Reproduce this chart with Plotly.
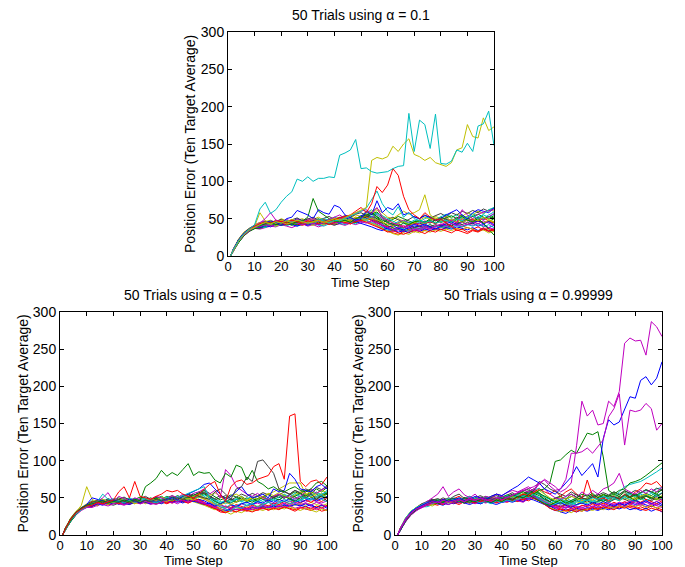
import plotly.graph_objects as go

# ---------------- data ----------------
time_steps = [1] + list(range(2, 101, 2))

# colours (MATLAB default order)
C_B, C_G, C_R, C_C, C_M, C_Y, C_K = "#0000FF", "#008000", "#FF0000", "#00BFBF", "#BF00BF", "#BFBF00", "#404040"
bulk_colors = [C_B, C_G, C_R, C_C, C_M, C_Y, C_K]

# ---- alpha = 0.1 (top) ----
top_trial_01 = [0,8,20,29,34,38, 40,42,41,44,43, 45,43,46,44,42, 44,46,43,45,47, 44,46,48,45,47, 50,48,45,40,36, 34,37,35,38,40, 39,41,38,40,42, 40,43,41,39,42, 44,40,42,38,41]
top_trial_02 = [0,7,19,28,35,39, 38,40,43,41,45, 42,44,41,43,46, 45,42,44,47,43, 46,44,47,50,52, 55,58,52,46,40, 38,35,33,36,38, 37,40,42,39,41, 43,40,44,46,42, 45,48,44,46,50]
top_trial_03 = [0,9,22,30,36,40, 42,44,46,43,42, 44,47,45,43,44, 42,45,48,46,44, 47,45,43,46,49, 52,47,43,38,33, 31,29,33,35,32, 36,34,37,35,38, 37,39,36,40,38, 36,39,35,37,34]
top_trial_04 = [0,8,21,31,35,37, 41,39,44,46,43, 41,43,46,48,45, 47,44,42,45,48, 50,47,52,49,53, 58,62,55,50,45, 42,46,44,40,43, 45,42,47,44,48, 46,50,47,52,49, 53,50,55,52,56]
top_trial_05 = [0,6,18,27,33,37, 36,38,40,39,42, 40,38,41,43,40, 42,39,41,44,42, 43,41,44,42,45, 47,44,40,36,34, 33,35,32,34,37, 36,38,40,37,39, 41,38,42,40,43, 41,44,40,38,36]
top_trial_06 = [0,9,23,32,37,41, 44,46,48,45,50, 47,45,48,50,46, 49,52,48,47,50, 52,49,51,55,53, 60,56,62,54,48, 45,50,47,43,46, 48,52,49,53,50, 54,51,56,53,58, 55,60,57,62,60]
top_trial_07 = [0,8,20,30,35,38, 39,43,41,45,42, 46,44,42,45,47, 44,43,46,44,41, 44,47,45,48,46, 49,53,50,44,38, 36,39,37,41,38, 40,37,39,42,40, 38,41,44,42,45, 43,47,44,46,45]
top_trial_08 = [0,7,20,29,36,40, 43,41,45,47,44, 48,46,50,47,45, 48,46,44,47,45, 49,52,48,50,54, 56,52,48,42,37, 35,32,34,31,35, 33,36,34,37,35, 38,36,39,37,35, 38,34,37,33,36]
top_trial_09 = [0,8,22,30,34,37, 37,40,42,44,41, 43,45,42,44,43, 46,44,47,45,43, 46,48,46,49,51, 54,57,50,45,41, 44,41,38,42,45, 43,46,44,48,45, 47,44,49,46,50, 48,52,49,53,51]
top_trial_10 = [0,9,21,31,36,39, 42,45,43,46,48, 45,47,44,48,46, 43,46,49,47,45, 48,45,47,52,50, 53,49,46,41,39, 40,43,39,42,44, 41,44,46,43,47, 45,48,45,50,47, 49,46,51,47,44]
top_trial_11 = [0,7,18,28,34,38, 40,38,42,40,44, 41,43,40,42,45, 43,41,40,43,46, 44,42,45,43,47, 48,45,42,38,35, 34,38,36,33,37, 35,39,37,40,38, 40,37,41,39,42, 40,43,39,42,38]
top_trial_12 = [0,8,21,30,36,42, 45,47,44,48,46, 49,46,44,47,50, 47,49,46,48,51, 49,53,50,48,52, 55,51,57,50,44, 41,44,48,45,42, 44,47,45,49,46, 50,47,52,48,51, 47,51,48,53,57]
top_trial_18 = [0,7,19,29,35,38, 41,44,42,40,43, 45,42,44,46,43, 41,44,42,45,43, 46,44,47,45,48, 46,44,41,37,33, 30,28,31,29,33, 31,34,32,35,33, 36,34,37,35,38, 36,33,35,31,33]
top_trial_19 = [0,9,22,31,37,41, 43,46,44,47,49, 46,48,51,47,49, 52,48,50,53,49, 51,54,52,56,58, 54,50,47,44,49, 52,48,45,49,53, 50,55,51,54,57, 53,58,55,60,57, 61,58,63,60,65]
top_trial_20 = [0,8,20,30,36,40, 38,41,39,43,41, 44,42,40,43,41, 44,42,45,43,46, 44,47,49,46,44, 42,39,36,34,38, 41,37,35,39,42, 40,43,39,36,40, 43,46,42,45,48, 44,47,43,46,42]
top_trial_21 = [0,7,18,27,33,37, 40,43,45,42,46, 44,41,45,48,44, 47,50,46,49,45, 48,51,47,45,49, 52,55,59,52,46, 49,53,50,47,44, 48,45,50,47,52, 49,46,51,55,50, 53,56,52,50,54]
top_trial_22 = [0,8,21,30,35,39, 44,41,43,46,44, 42,45,43,41,44, 46,43,45,42,44, 47,45,43,46,48, 45,42,40,36,32, 34,31,29,32,35, 33,30,34,32,36, 34,31,35,33,30, 34,32,36,33,35]
top_trial_23 = [0,9,21,30,35,40, 42,40,44,47,45, 48,46,43,47,45, 43,47,50,48,52, 49,46,50,48,51, 49,53,57,54,50, 46,43,47,44,48, 46,50,53,49,52, 56,52,55,50,54, 57,53,50,55,59]
top_trial_24 = [0,8,20,28,34,38, 39,42,40,43,45, 43,46,44,42,45, 44,42,45,47,44, 46,43,45,48,46, 44,47,44,40,37, 35,38,41,37,34, 37,40,36,39,43, 40,44,41,45,42, 46,43,47,44,41]
top_trial_25 = [0,7,20,30,36,41, 45,43,46,44,48, 46,49,47,45,48, 50,47,44,47,50, 48,46,49,52,50, 48,51,48,45,42, 40,44,46,42,45, 47,44,48,51,47, 45,49,46,50,53, 50,47,52,49,46]
top_trial_13 = [0,8,20,30,35,40, 58,47,45,44,46, 43,45,47,44,46, 45,48,46,44,47, 46,49,47,50,52, 55,60,64,58,52, 50,55,60,56,58, 62,82,55,50,48, 52,47,50,45,48, 46,50,44,48,45]
top_trial_14 = [0,8,21,30,35,39, 41,43,45,42,44, 46,44,45,47,52, 77,60,55,50,47, 46,48,45,50,52, 55,58,53,48,45, 43,40,44,42,46, 47,45,48,44,49, 51,54,50,53,48, 46,50,44,36,28]
top_trial_15 = [0,9,22,31,36,40, 42,44,47,45,43, 50,52,61,58,55, 50,62,58,56,68, 65,55,52,48,50, 60,55,74,58,65, 62,70,55,58,52, 50,54,52,48,50, 55,58,62,55,50, 58,62,60,58,64]
top_trial_16 = [0,8,20,29,35,39, 44,50,58,48,46, 47,45,49,46,48, 50,47,45,49,52, 55,50,54,58,60, 62,57,65,52,48, 44,42,38,41,36, 34,38,36,40,42, 45,48,44,62,55, 50,56,59,61,62]
top_trial_17 = [0,8,20,30,35,38, 42,45,43,46,44, 47,45,48,46,44, 46,49,47,45,48, 47,50,53,56,60, 64,75,87,70,60, 55,66,52,58,50, 48,45,47,44,46, 48,45,50,47,52, 54,50,56,62,65]
top_trial_red = [0,8,21,30,36,40, 43,45,44,47,46, 45,48,46,44,47, 46,48,45,47,49, 50,52,55,60,65, 58,70,93,85,95, 117,108,80,62,55, 50,58,52,48,50, 44,40,34,36,32, 35,33,38,34,36]
top_trial_yellow = [0,8,20,29,35,39, 42,45,43,46,44, 47,45,48,46,44, 46,48,45,47,50, 48,52,55,58,62, 65,128,132,130,133, 147,140,150,157,136, 133,128,132,125,122, 120,125,142,145,176, 160,158,185,168,173]
top_trial_cyan = [0,8,21,30,36,42, 63,72,57,62,72, 80,86,103,100,106, 100,104,104,106,105, 135,138,142,156,117, 118,113,111,112,113, 117,120,121,191,140, 182,176,144,190,124, 123,127,142,139,151, 140,174,177,194,148]

# ---- alpha = 0.5 (bottom left) ----
bl_trial_01 = [0,8,20,29,35,39, 40,44,42,46,43, 45,42,44,47,45, 43,46,44,42,45, 47,44,46,49,47, 45,42,38,35,33, 32,35,34,37,35, 38,36,39,37,40, 38,41,39,42,40, 38,41,37,40,36]
bl_trial_02 = [0,7,19,28,35,40, 43,41,45,48,46, 44,47,49,46,44, 47,50,46,48,52, 49,53,50,55,52, 58,55,50,46,42, 45,48,44,47,50, 46,49,52,48,51, 55,50,54,58,55, 60,56,62,58,64]
bl_trial_03 = [0,9,22,30,36,39, 38,42,44,41,43, 46,43,41,44,42, 45,43,47,44,42, 45,48,45,43,46, 48,44,40,36,31, 30,33,31,34,32, 35,33,36,34,37, 35,38,36,34,37, 35,33,36,32,34]
bl_trial_04 = [0,8,21,31,36,41, 45,43,47,44,48, 46,50,47,45,48, 44,47,50,48,46, 49,47,51,48,53, 55,60,52,48,45, 42,46,49,45,43, 47,44,48,46,50, 47,52,49,54,51, 55,52,58,54,60]
bl_trial_05 = [0,6,18,27,33,37, 41,39,43,45,42, 44,46,43,47,44, 46,43,45,48,44, 47,45,49,46,50, 52,48,45,41,38, 36,40,38,42,39, 41,43,40,44,42, 45,42,46,43,47, 44,48,45,43,46]
bl_trial_06 = [0,9,23,32,37,42, 44,47,45,43,46, 48,45,47,44,46, 42,45,43,46,44, 48,46,44,47,45, 43,40,37,34,36, 38,35,37,34,38, 36,39,37,40,38, 41,39,43,40,42, 40,44,41,39,42]
bl_trial_07 = [0,8,20,30,35,38, 39,41,44,42,40, 43,45,42,46,44, 48,45,43,46,49, 46,50,47,51,49, 55,58,52,47,50, 53,49,45,50,46, 49,52,48,45,50, 53,49,55,51,48, 52,56,50,54,57]
bl_trial_08 = [0,7,20,29,36,40, 42,45,43,47,45, 41,44,46,43,45, 47,44,42,45,47, 44,46,43,47,45, 48,46,42,38,35, 33,36,39,36,33, 37,35,38,36,39, 37,40,38,41,39, 42,39,37,40,38]
bl_trial_09 = [0,8,22,30,35,40, 46,44,48,45,47, 50,47,45,48,51, 48,46,49,52,48, 51,49,53,50,48, 52,56,50,45,42, 46,43,48,52,47, 44,48,51,47,53, 50,54,48,52,56, 53,58,55,51,55]
bl_trial_10 = [0,9,21,31,36,38, 40,43,41,44,46, 43,41,45,43,47, 45,48,44,47,45, 43,46,48,45,49, 47,43,40,38,36, 39,37,41,38,36, 40,38,42,39,43, 41,45,42,46,43, 47,44,48,45,50]
bl_trial_11 = [0,7,18,28,34,39, 43,46,48,44,47, 45,48,50,47,45, 49,46,48,51,47, 50,52,49,54,51, 56,52,47,43,40, 37,41,39,43,40, 42,45,41,44,47, 44,48,45,49,46, 50,47,52,48,45]
bl_trial_12 = [0,8,21,30,35,37, 37,40,43,41,44, 42,40,43,45,42, 44,41,43,46,43, 45,42,46,44,47, 46,44,41,37,34, 35,32,35,33,36, 34,37,35,38,36, 39,37,40,36,38, 35,38,34,37,33]
bl_trial_13 = [0,7,19,29,35,38, 42,40,43,41,45, 43,46,44,42,45, 47,44,46,43,45, 48,46,49,47,51, 53,49,45,40,35, 31,28,32,30,34, 32,35,33,36,34, 37,35,38,36,33, 36,34,31,35,33]
bl_trial_14 = [0,9,22,31,37,41, 44,47,45,49,46, 48,51,47,45,49, 52,48,51,47,50, 53,49,52,55,51, 54,57,52,49,53, 50,47,51,55,52, 56,53,57,54,50, 54,58,55,60,57, 62,59,64,61,66]
bl_trial_15 = [0,8,20,30,36,40, 39,42,40,44,42, 45,43,41,44,47, 44,42,45,43,46, 44,47,45,48,46, 44,41,43,39,42, 45,41,38,42,44, 41,45,43,47,44, 48,45,49,46,44, 47,50,46,49,52]
bl_trial_16 = [0,7,18,27,34,39, 41,44,46,43,47, 45,43,46,49,46, 44,47,50,46,48, 51,48,46,50,53, 57,60,56,51,47, 50,54,51,48,45, 49,46,51,55,50, 47,52,49,45,50, 54,51,48,53,56]
bl_trial_17 = [0,8,21,30,35,40, 45,42,44,47,44, 42,45,43,46,44, 47,44,42,46,43, 45,48,46,43,47, 44,42,39,35,32, 30,34,31,35,33, 31,34,37,33,36, 34,38,35,32,36, 38,35,39,36,40]
bl_trial_18 = [0,9,21,31,36,41, 43,45,43,47,49, 46,48,45,49,47, 50,47,45,48,51, 49,46,50,48,52, 50,54,50,46,43, 47,44,48,45,49, 52,48,45,50,47, 51,55,51,56,52, 49,53,57,53,50]
bl_trial_19 = [0,8,20,28,34,37, 40,43,41,39,42, 44,41,43,45,42, 45,43,41,44,46, 43,45,47,44,48, 45,43,40,37,41, 38,35,39,37,34, 38,36,40,38,42, 39,43,40,44,41, 43,40,44,41,38]
bl_trial_20 = [0,7,20,30,36,40, 44,46,48,45,43, 47,49,46,44,48, 45,49,47,51,48, 46,50,53,49,47, 51,48,53,57,52, 48,52,55,51,47, 51,48,52,56,53, 57,53,50,54,58, 55,51,56,60,57]
bl_trial_yellow = [0,9,22,31,40,65, 48,44,46,43,45, 47,44,46,42,45, 48,46,44,47,45, 49,47,50,48,52, 55,50,46,42,40, 44,41,45,48,46, 50,53,49,55,58, 62,65,70,70,70, 55,58,52,56,50]
bl_trial_magenta = [0,8,21,30,36,40, 42,45,50,57,45, 52,49,46,50,47, 45,48,52,50,47, 53,50,55,52,56, 58,62,55,60,50, 88,80,65,60,55, 52,56,50,48,52, 55,50,53,48,52, 58,62,56,60,65]
bl_trial_blue = [0,8,20,30,36,41, 50,48,45,44,47, 46,44,48,45,43, 47,45,44,46,48, 50,47,52,55,58, 62,68,70,62,55, 48,52,58,65,55, 50,52,55,50,62, 58,60,83,75,62, 60,58,65,68,62]
bl_trial_cyan = [0,7,19,28,34,38, 42,45,55,48,44, 46,43,47,44,46, 48,45,43,46,49, 47,50,52,55,58, 62,65,50,42,38, 35,32,38,36,40, 42,38,41,44,40, 43,46,42,45,48, 50,47,52,55,58]
bl_trial_black = [0,9,22,31,36,40, 44,46,43,47,45, 48,45,43,46,44, 47,45,48,46,49, 47,50,48,52,55, 52,50,48,58,62, 55,48,62,65,78, 72,99,101,92,83, 62,58,55,60,56, 50,55,48,52,46]
bl_trial_green = [0,8,20,30,36,40, 42,44,46,43,45, 44,47,45,48,46, 65,70,76,87,79, 84,80,88,96,80, 85,83,84,74,70, 83,78,94,91,74, 87,72,68,62,65, 60,58,62,65,60, 58,62,70,72,66]
bl_trial_red = [0,8,21,30,35,39, 40,44,42,45,47, 58,65,50,72,52, 50,48,52,55,60, 58,60,55,52,50, 55,62,68,72,55, 45,65,72,74,68, 70,75,78,80,92, 96,75,160,163,72, 65,72,74,68,78]

# ---- alpha = 0.99999 (bottom right) ----
br_trial_01 = [0,8,20,29,35,39, 42,45,43,47,44, 46,48,45,43,46, 44,47,45,48,46, 49,46,50,53,56, 52,48,42,36,33, 32,35,33,36,34, 37,35,38,36,40, 38,42,40,44,41, 43,40,38,42,39]
br_trial_02 = [0,7,19,28,35,40, 40,43,46,44,48, 45,47,50,46,44, 47,45,49,46,48, 51,48,52,55,58, 62,57,50,45,40, 38,42,45,41,44, 47,43,46,49,45, 48,52,48,51,55, 52,56,53,58,60]
br_trial_03 = [0,9,22,30,36,40, 44,42,45,48,46, 49,52,47,45,48, 46,50,47,45,49, 47,50,48,52,50, 54,50,45,40,37, 35,33,36,34,32, 35,37,34,38,36, 39,36,40,37,35, 38,35,39,36,34]
br_trial_04 = [0,8,21,31,36,38, 38,41,44,46,43, 45,43,47,50,47, 48,51,47,44,46, 49,52,56,53,57, 60,63,55,48,44, 47,50,46,49,45, 48,52,49,46,50, 53,50,54,57,52, 56,60,57,62,64]
br_trial_05 = [0,6,18,27,33,38, 43,46,44,42,45, 44,47,45,48,46, 43,45,48,46,44, 47,45,49,47,50, 53,48,44,39,36, 38,36,40,37,39, 41,38,42,40,38, 42,40,44,41,45, 42,46,43,40,44]
br_trial_06 = [0,9,23,32,37,42, 41,39,43,46,44, 47,45,43,46,49, 46,44,47,45,48, 50,47,45,49,52, 55,50,46,42,45, 48,44,41,45,42, 44,47,45,42,46, 49,46,50,47,51, 48,52,49,47,50]
br_trial_07 = [0,8,20,30,35,39, 45,48,46,50,47, 52,55,49,47,50, 53,49,52,55,50, 53,57,52,55,60, 58,55,48,44,41, 43,40,44,47,43, 46,42,45,48,44, 47,51,48,45,49, 52,48,46,50,47]
br_trial_08 = [0,7,20,29,36,40, 40,42,45,43,41, 44,46,43,41,44, 42,45,43,46,44, 45,48,46,50,48, 52,47,43,38,34, 31,29,33,31,34, 32,35,33,36,34, 37,35,38,34,36, 33,36,32,35,31]
br_trial_09 = [0,8,22,30,35,40, 43,45,48,44,46, 48,45,50,47,45, 49,46,44,47,51, 48,52,50,54,51, 56,53,48,45,50, 52,48,55,51,47, 50,54,51,55,52, 58,54,60,56,53, 57,61,58,55,62]
br_trial_10 = [0,9,21,31,36,38, 39,42,40,44,46, 43,41,45,43,47, 45,48,45,43,46, 44,47,45,48,46, 50,46,42,38,40, 37,41,38,36,40, 38,42,39,43,40, 44,41,45,42,46, 44,48,45,42,46]
br_trial_11 = [0,7,18,28,34,39, 44,47,45,43,47, 50,47,45,49,46, 48,51,47,50,53, 50,54,51,56,53, 58,55,51,47,44, 41,45,43,40,44, 42,46,44,48,45, 49,46,51,48,45, 49,46,50,53,49]
br_trial_12 = [0,8,21,30,35,37, 41,44,42,45,48, 46,43,47,44,42, 45,47,44,48,46, 46,49,47,45,50, 52,49,45,40,37, 34,38,36,33,37, 35,39,37,40,38, 36,40,38,42,39, 41,38,42,39,37]
br_trial_13 = [0,8,20,29,35,40, 44,42,46,44,48, 46,49,47,44,48, 46,49,52,48,46, 50,48,52,56,53, 50,46,42,37,34, 31,33,30,34,32, 35,33,36,34,38, 36,39,37,40,38, 41,37,40,36,39]
br_trial_14 = [0,9,22,31,37,42, 45,47,49,46,50, 48,45,49,52,48, 51,48,50,53,49, 52,55,51,54,57, 53,50,47,45,49, 52,48,51,55,51, 54,50,53,57,54, 58,55,59,56,60, 57,61,58,63,60]
br_trial_15 = [0,7,19,28,34,38, 41,44,42,40,44, 42,45,43,46,44, 42,45,43,41,44, 46,44,47,45,49, 47,44,40,38,41, 44,40,37,41,43, 40,44,41,45,42, 39,43,40,44,47, 43,46,42,45,41]
br_trial_16 = [0,8,21,30,36,39, 43,46,44,47,45, 49,47,50,48,46, 49,52,49,47,51, 54,51,55,58,55, 59,56,52,48,45, 43,47,44,48,50, 47,51,48,45,49, 52,48,53,50,47, 51,54,50,48,52]
br_trial_17 = [0,9,21,30,35,39, 42,45,43,41,45, 43,46,48,45,43, 47,44,46,49,45, 48,46,50,47,52, 49,46,41,36,33, 35,32,34,31,35, 33,37,35,38,36, 34,38,36,39,37, 35,33,36,34,32]
br_trial_18 = [0,8,20,29,36,41, 45,43,47,45,49, 47,50,48,52,49, 47,51,49,46,50, 53,50,54,52,56, 54,51,47,43,46, 49,45,42,46,44, 48,45,49,52,48, 51,47,52,55,51, 55,52,56,53,57]
br_trial_19 = [0,7,18,27,33,37, 40,42,45,43,41, 44,46,43,45,48, 45,43,46,44,47, 45,48,46,44,49, 51,48,45,41,38, 40,37,41,39,36, 40,38,42,40,44, 41,44,42,46,43, 40,44,41,45,48]
br_trial_20 = [0,9,23,32,37,40, 43,41,44,46,43, 45,48,46,44,47, 50,47,45,48,46, 49,52,48,51,54, 57,60,55,50,47, 51,48,52,49,46, 50,47,51,54,50, 53,49,54,51,48, 52,55,51,49,53]
br_trial_red = [0,8,20,30,36,40, 43,46,44,48,45, 47,44,46,49,47, 45,48,46,44,47, 50,48,52,55,53, 57,62,58,55,60, 52,58,62,55,48, 74,52,48,50,46, 52,48,55,50,58, 62,70,68,72,64]
br_trial_black = [0,8,21,30,35,39, 45,48,46,44,47, 49,46,50,48,45, 47,50,48,46,49, 51,48,52,50,55, 60,72,68,62,58, 55,52,58,54,50, 48,52,55,50,53, 51,49,54,52,55, 50,53,48,52,56]
br_trial_magenta_bump = [0,8,21,30,36,40, 45,50,55,65,52, 58,62,54,50,55, 48,52,50,55,53, 57,60,58,62,65, 58,70,62,55,50, 48,52,55,50,58, 53,60,55,62,65, 70,83,62,58,55, 60,56,62,58,64]
br_trial_cyan = [0,9,23,32,37,41, 44,42,46,43,45, 48,45,47,44,46, 43,45,42,46,44, 47,45,49,52,50, 55,48,44,40,42, 45,42,40,44,48, 46,50,48,52,50, 50,58,65,68,70, 72,76,80,85,90]
br_trial_green2 = [0,7,19,28,34,38, 41,44,42,45,47, 44,46,43,47,45, 48,46,44,47,45, 49,47,52,50,54, 50,46,42,40,44, 47,43,46,50,55, 52,56,50,54,52, 55,60,62,70,72, 75,80,86,92,97]
br_trial_green1 = [0,8,20,29,35,39, 42,44,46,43,47, 45,48,46,44,47, 49,46,50,48,52, 50,53,55,58,62, 55,60,62,70,99, 101,108,114,110,123, 137,135,139,105,60, 55,52,58,50,54, 48,52,50,55,50]
br_trial_blue = [0,8,21,31,36,40, 43,46,44,48,45, 47,50,46,48,52, 50,48,52,55,53, 58,62,66,72,78, 74,70,62,58,55, 62,70,78,92,80, 88,96,78,130,155, 148,152,170,186,184, 208,213,202,211,233]
br_trial_magenta2 = [0,9,22,30,35,38, 40,43,45,42,46, 44,47,45,48,46, 50,47,45,49,52, 50,54,57,60,62, 65,70,74,66,60, 62,75,110,110,112, 117,110,119,128,159, 170,190,121,168,166, 168,177,170,141,150]
br_trial_magenta1 = [0,8,20,29,35,39, 42,45,43,47,44, 46,48,45,50,47, 49,46,48,51,47, 50,53,56,60,58, 62,68,75,70,65, 58,62,70,120,180, 160,168,148,150,180, 173,193,258,265,261, 262,242,287,280,267]

top_bulk = [top_trial_01, top_trial_02, top_trial_03, top_trial_04, top_trial_05, top_trial_06,
            top_trial_07, top_trial_08, top_trial_09, top_trial_10, top_trial_11, top_trial_12,
            top_trial_18, top_trial_19, top_trial_20, top_trial_21, top_trial_22, top_trial_23,
            top_trial_24, top_trial_25]
top_special = [(top_trial_13, C_Y), (top_trial_14, C_G), (top_trial_15, C_B), (top_trial_16, C_M),
               (top_trial_17, C_C), (top_trial_red, C_R), (top_trial_yellow, C_Y), (top_trial_cyan, C_C)]

bl_bulk = [bl_trial_01, bl_trial_02, bl_trial_03, bl_trial_04, bl_trial_05, bl_trial_06,
           bl_trial_07, bl_trial_08, bl_trial_09, bl_trial_10, bl_trial_11, bl_trial_12,
           bl_trial_13, bl_trial_14, bl_trial_15, bl_trial_16, bl_trial_17, bl_trial_18,
           bl_trial_19, bl_trial_20]
bl_special = [(bl_trial_yellow, C_Y), (bl_trial_magenta, C_M), (bl_trial_blue, C_B), (bl_trial_cyan, C_C),
              (bl_trial_black, C_K), (bl_trial_green, C_G), (bl_trial_red, C_R)]

br_bulk = [br_trial_01, br_trial_02, br_trial_03, br_trial_04, br_trial_05, br_trial_06,
           br_trial_07, br_trial_08, br_trial_09, br_trial_10, br_trial_11, br_trial_12,
           br_trial_13, br_trial_14, br_trial_15, br_trial_16, br_trial_17, br_trial_18,
           br_trial_19, br_trial_20]
br_special = [(br_trial_red, C_R), (br_trial_black, C_K), (br_trial_magenta_bump, C_M), (br_trial_cyan, C_C),
              (br_trial_green2, C_G), (br_trial_green1, C_G), (br_trial_blue, C_B),
              (br_trial_magenta2, C_M), (br_trial_magenta1, C_M)]

titles = ["50 Trials using α = 0.1", "50 Trials using α = 0.5", "50 Trials using α = 0.99999"]
x_ticks = list(range(0, 101, 10))
y_ticks = list(range(0, 301, 50))

# ---------------- figure ----------------
W, H = 685, 567
FONT = "Liberation Sans, Arial, Helvetica, sans-serif"

# axes boxes in pixels: (left, right, top, bottom)
boxes = [(228, 494, 32, 256), (60, 327, 312, 535), (395, 662, 312, 535)]
xlabel_offsets = [26, 25, 25]
groups = [(top_bulk, top_special), (bl_bulk, bl_special), (br_bulk, br_special)]

fig = go.Figure()
for k, (bulk, special) in enumerate(groups):
    xa = "x" if k == 0 else f"x{k+1}"
    ya = "y" if k == 0 else f"y{k+1}"
    series = [(s, bulk_colors[i % 7]) for i, s in enumerate(bulk)] + special
    for s, col in series:
        fig.add_trace(go.Scatter(x=time_steps[:len(s)], y=s, mode="lines",
                                 line=dict(color=col, width=1), xaxis=xa, yaxis=ya,
                                 showlegend=False, hoverinfo="skip"))

annotations = []
for k, (l, r, t, b) in enumerate(boxes):
    xdom = [l / W, r / W]
    ydom = [(H - b) / H, (H - t) / H]
    ax_common = dict(showline=True, linecolor="black", linewidth=1, mirror="ticks",
                     ticks="inside", ticklen=4, tickcolor="black", showgrid=False, zeroline=False,
                     automargin=False)
    xkey = "xaxis" if k == 0 else f"xaxis{k+1}"
    ykey = "yaxis" if k == 0 else f"yaxis{k+1}"
    fig.update_layout(**{
        xkey: dict(domain=xdom, range=[0, 100], tickvals=x_ticks, anchor="y" if k == 0 else f"y{k+1}",
                   ticklabelstandoff=-2,
                   tickfont=dict(family=FONT, size=13, color="black"), **ax_common),
        ykey: dict(domain=ydom, range=[0, 300], tickvals=y_ticks, anchor="x" if k == 0 else f"x{k+1}",
                   tickfont=dict(family=FONT, size=14, color="black"), **ax_common),
    })
    cx = (l + r) / 2
    cy = (t + b) / 2
    annotations.append(dict(text=titles[k], x=cx / W, y=(H - (t - 17)) / H, xref="paper", yref="paper",
                            showarrow=False, xanchor="center", yanchor="middle",
                            font=dict(family=FONT, size=14, color="black")))
    annotations.append(dict(text="Time Step", x=cx / W, y=(H - (b + xlabel_offsets[k])) / H, xref="paper", yref="paper",
                            showarrow=False, xanchor="center", yanchor="middle",
                            font=dict(family=FONT, size=13, color="black")))
    annotations.append(dict(text="Position Error (Ten Target Average)", x=(l - 38) / W, y=(H - cy) / H,
                            xref="paper", yref="paper", showarrow=False, textangle=-90,
                            xanchor="center", yanchor="middle",
                            font=dict(family=FONT, size=14, color="black")))

fig.update_layout(width=W, height=H, margin=dict(l=0, r=0, t=0, b=0, autoexpand=False),
                  paper_bgcolor="white", plot_bgcolor="white",
                  annotations=annotations, showlegend=False)

fig.write_html("out.html", post_script="document.body.style.margin='0';")
